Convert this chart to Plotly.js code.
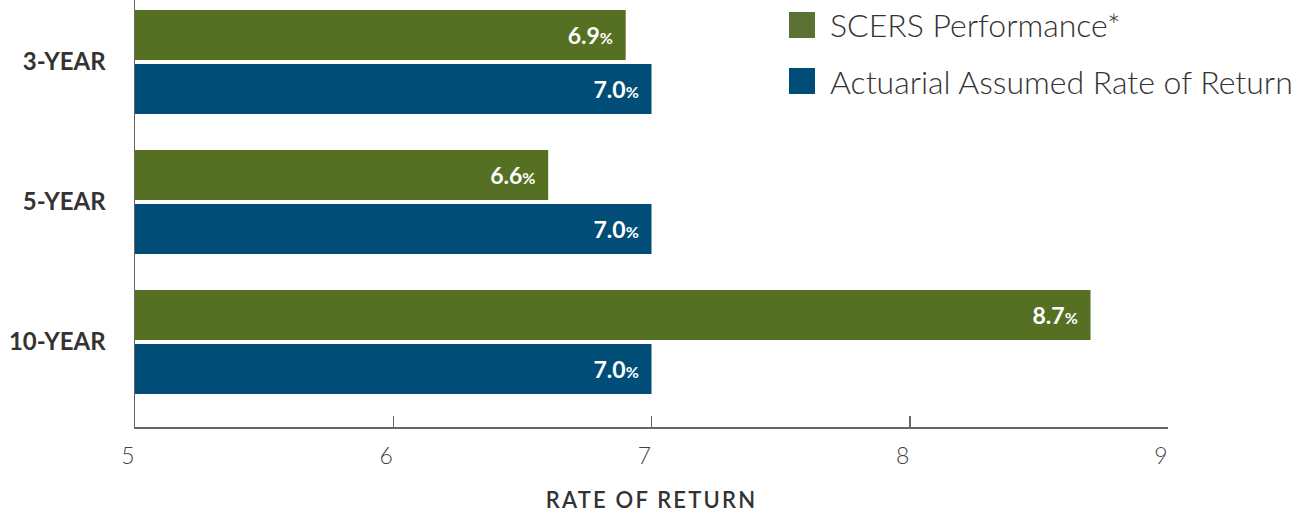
<!DOCTYPE html>
<html>
<head>
<meta charset="utf-8">
<script src="https://cdn.plot.ly/plotly-3.0.1.min.js"></script>
<style>html,body{margin:0;padding:0;background:#fff;}#chart{width:1299px;height:516px;}
#chart .xtitle{letter-spacing:2.2px;}</style>
</head>
<body>
<div id="chart"></div>
<script>
var categories = ["3-YEAR", "5-YEAR", "10-YEAR"];
var seriesNames = ["SCERS Performance*", "Actuarial Assumed Rate of Return"];
var scersValues = [6.9, 6.6, 8.7];
var assumedValues = [7.0, 7.0, 7.0];
var xTicks = [5, 6, 7, 8, 9];
var colors = ["#557023", "#004e78"];
var legendColors = ["#5a7334", "#004e78"];

function label(v) {
  return "<b>" + v.toFixed(1) + "</b><span style='font-size:16px'>%</span><span style='font-size:20px'>&nbsp;&nbsp;</span>";
}

var textFont = {family: "Lato, sans-serif", size: 23, color: "#ffffff", weight: 700};

var traces = [
  {
    type: "bar", orientation: "h", name: seriesNames[0],
    y: categories.map(function(c, i){ return i; }), x: scersValues.map(function(v){ return v - 5; }), base: 5,
    marker: {color: colors[0]},
    text: scersValues.map(label), textposition: "inside", insidetextanchor: "end",
    textfont: textFont, hoverinfo: "skip", showlegend: false
  },
  {
    type: "bar", orientation: "h", name: seriesNames[1],
    y: categories.map(function(c, i){ return i; }), x: assumedValues.map(function(v){ return v - 5; }), base: 5,
    marker: {color: colors[1]},
    text: assumedValues.map(label), textposition: "inside", insidetextanchor: "end",
    textfont: textFont, hoverinfo: "skip", showlegend: false
  }
];

var plotH = 427;
function py(p) { return 1 - p / plotH; }
function px(p) { return (p - 135) / 1033; }

var legendTops = [12, 68];
var shapes = [];
var annotations = [];
seriesNames.forEach(function(n, i) {
  var t = legendTops[i];
  shapes.push({type: "rect", xref: "paper", yref: "paper", x0: px(789), x1: px(815), y0: py(t + 26), y1: py(t), fillcolor: legendColors[i], line: {width: 0}});
  annotations.push({xref: "paper", yref: "paper", x: px(828), y: py(t + 13), xanchor: "left", yanchor: "middle", text: n, showarrow: false,
    font: {family: "Lato, sans-serif", size: 32, color: "#333333", weight: 300}});
});

var layout = {
  width: 1299, height: 516,
  margin: {l: 135, r: 131, t: 0, b: 89},
  paper_bgcolor: "#ffffff", plot_bgcolor: "#ffffff",
  barmode: "group", bargap: 0.229, bargroupgap: 0.074,
  showlegend: false,
  xaxis: {
    range: [5, 9], tickvals: xTicks, ticktext: xTicks.map(String),
    showgrid: false, zeroline: false,
    showline: true, linecolor: "#666666", linewidth: 1.5,
    ticks: "inside", ticklen: 11, tickwidth: 1.5, tickcolor: "#666666",
    ticklabelstandoff: 8, ticklabelshift: -7,
    tickfont: {family: "Lato, sans-serif", size: 23, color: "#444444", weight: 300},
    title: {text: "RATE OF RETURN", standoff: 24, font: {family: "Lato, sans-serif", size: 22, color: "#333333", weight: 600}}
  },
  yaxis: {
    range: [2.607, -0.443], tickvals: [0, 1, 2], ticktext: categories,
    showgrid: false, zeroline: false,
    showline: true, linecolor: "#666666", linewidth: 1.5,
    ticks: "", ticklabelstandoff: 23,
    tickfont: {family: "Lato, sans-serif", size: 24, color: "#333333", weight: 700}
  },
  shapes: shapes,
  annotations: annotations
};

Plotly.newPlot("chart", traces, layout, {displayModeBar: false, staticPlot: true});
</script>
</body>
</html>
